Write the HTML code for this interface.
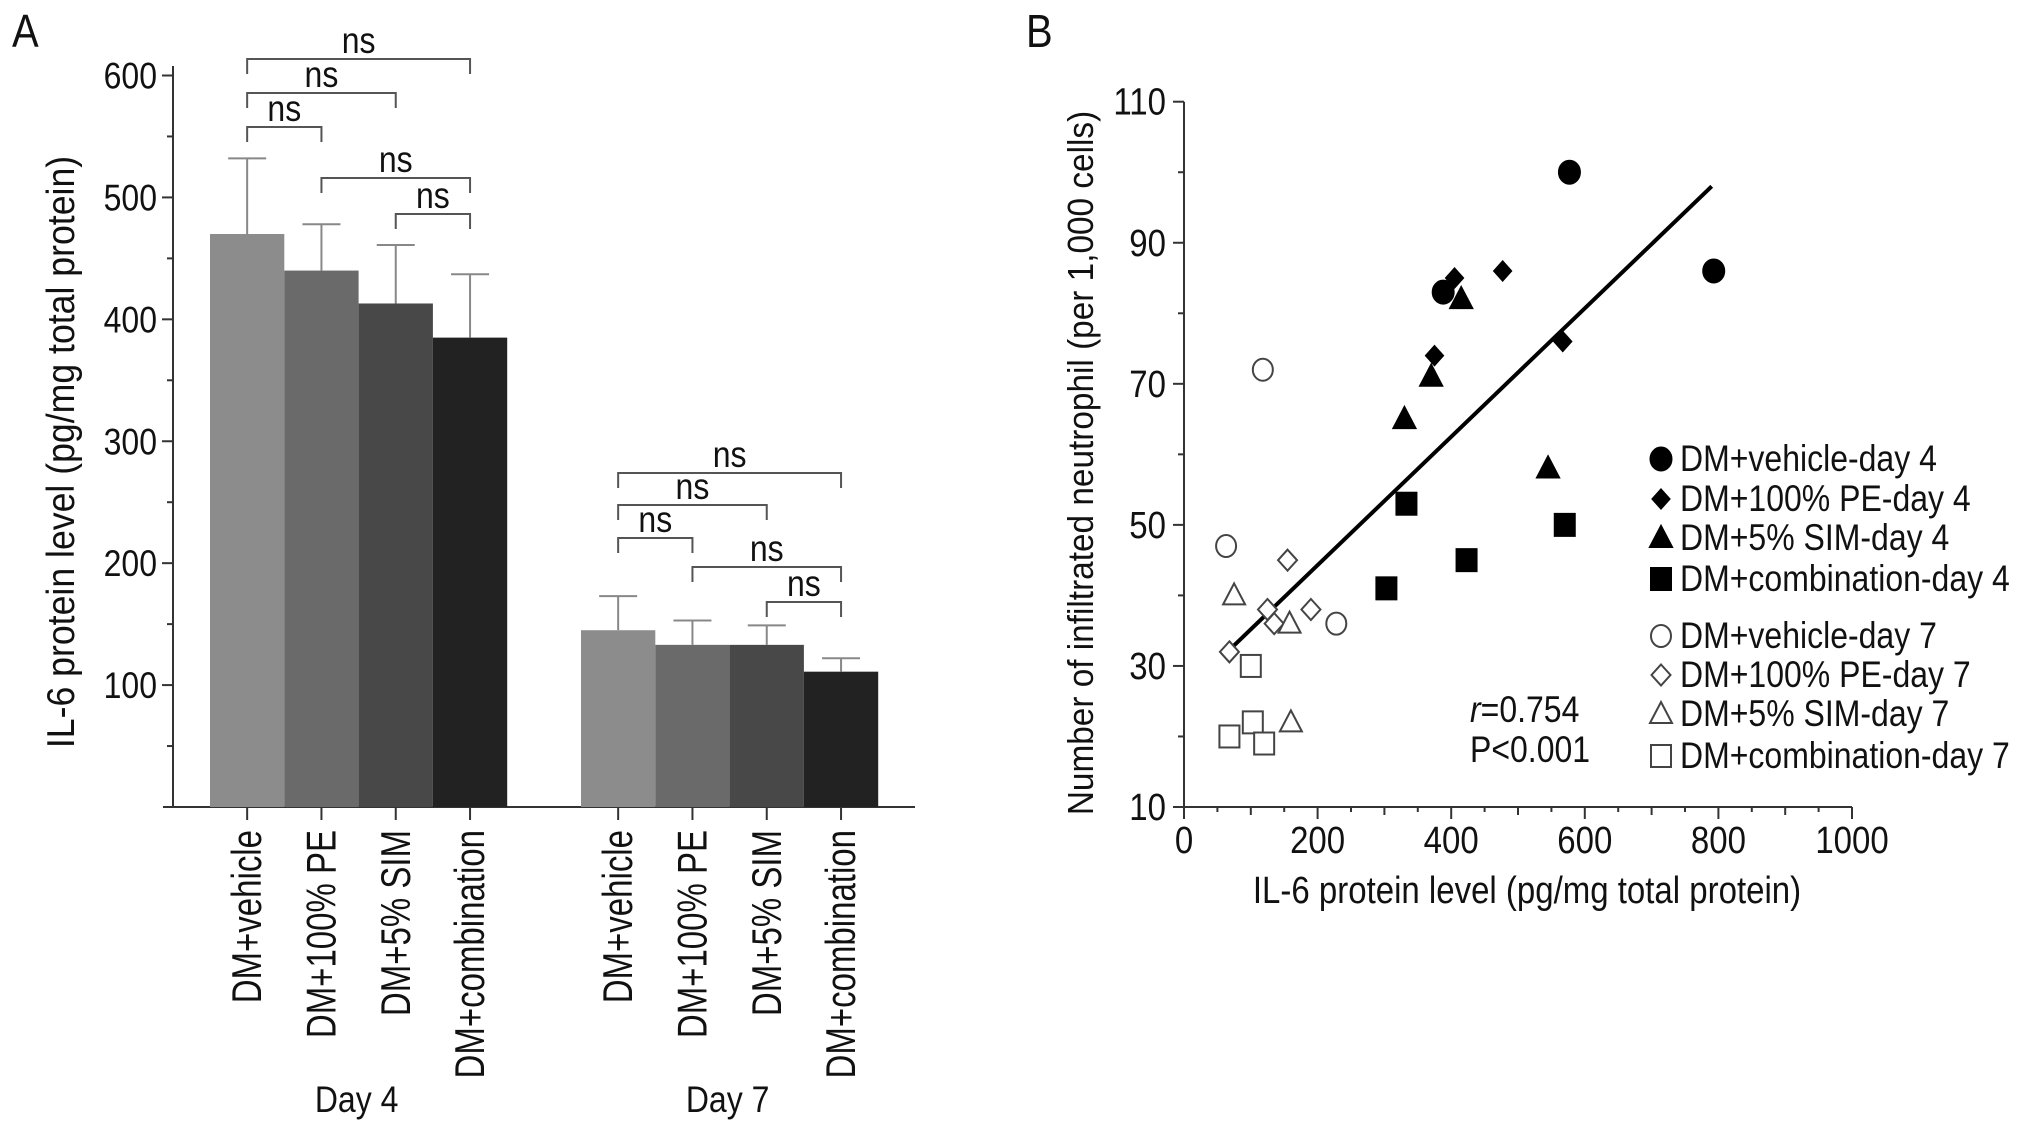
<!DOCTYPE html>
<html><head><meta charset="utf-8"><style>
html,body{margin:0;padding:0;background:#fff}
svg{display:block;font-family:"Liberation Sans",Arial,sans-serif}
</style></head><body>
<svg id="fig" width="2032" height="1133" viewBox="0 0 2032 1133" xmlns="http://www.w3.org/2000/svg">
<g id="pa"></g>
<g id="pb"></g>
</svg>
<script>
const groups = ["Day 4", "Day 7"];
const categories = ["DM+vehicle", "DM+100% PE", "DM+5% SIM", "DM+combination"];
const day4Means = [470, 440, 413, 385];
const day4Errors = [532, 478, 461, 437];
const day7Means = [145, 133, 133, 111];
const day7Errors = [173, 153, 149, 122];
const barTicks = [100, 200, 300, 400, 500, 600];
const bracketPairs = [[0,3],[0,2],[0,1],[1,3],[2,3]];

const vehD4x = [388, 577, 793], vehD4y = [83, 100, 86];
const peD4x = [405, 477, 375, 567], peD4y = [85, 86, 74, 76];
const simD4x = [415, 370, 330, 545], simD4y = [82, 71, 65, 58];
const comD4x = [333, 303, 423, 570], comD4y = [53, 41, 45, 50];
const vehD7x = [118, 63, 228], vehD7y = [72, 47, 36];
const peD7x = [155, 125, 190, 135, 68], peD7y = [45, 38, 38, 36, 32];
const simD7x = [75, 158, 160], simD7y = [40, 36, 22];
const comD7x = [100, 68, 103, 120], comD7y = [30, 20, 22, 19];
const fitX = [65, 790], fitY = [32, 98];
const xTicksB = [0, 200, 400, 600, 800, 1000];
const yTicksB = [10, 30, 50, 70, 90, 110];

const NS = "http://www.w3.org/2000/svg";
const ST = 1.15;
function mk(parent, tag, attrs, text) {
  const e = document.createElementNS(NS, tag);
  for (const k in attrs) e.setAttribute(k, attrs[k]);
  if (text !== undefined) e.textContent = text;
  parent.appendChild(e);
  return e;
}
function htext(parent, x, y, size, anchor, str) {
  return mk(parent, "text", {x:0, y:0, "font-size":size, "text-anchor":anchor, fill:"#111", transform:"translate(" + x + "," + y + ") scale(1," + ST + ")"}, str);
}
function vtext(parent, x, y, size, anchor, str, sa, sh) {
  return mk(parent, "text", {x:0, y:0, "font-size":size, "text-anchor":anchor, fill:"#111", transform:"translate(" + x + "," + y + ") rotate(-90) scale(" + sa + "," + sh + ")"}, str);
}
let e;
const svg = document.getElementById("fig");
e = htext(svg, 12, 47, 40, "start", "A");


e = htext(svg, 1026, 47, 40, "start", "B");



// ---------- Panel A ----------
const pa = document.getElementById("pa");
const Y0A = 807, Y600 = 75.5;
const yA = v => Y0A - v * (Y0A - Y600) / 600;
const barW = 74.3;
const groupStart = [210, 581];
const colors = ["#8c8c8c", "#6a6a6a", "#484848", "#222222"];
const xA = (g, i) => groupStart[g] + i * barW;
e = mk(pa, "line", {x1:173, y1:66, x2:173, y2:Y0A, stroke:"#333", "stroke-width":2});


e = mk(pa, "line", {x1:163, y1:Y0A, x2:915, y2:Y0A, stroke:"#333", "stroke-width":2});


for (let v = 50; v <= 600; v += 50) {
  const major = v % 100 === 0;
  mk(pa, "line", {x1: major ? 162 : 167, y1: yA(v), x2:173, y2: yA(v), stroke:"#333", "stroke-width":2});
}
barTicks.forEach(v => {
  e = htext(pa, 157, yA(v) + 13, 32, "end", String(v));
  
  
});
e = vtext(pa, 74, 452, 31, "middle", "IL-6 protein level (pg/mg total protein)", ST, 1.25);



[day4Means, day7Means].forEach((means, g) => {
  const errs = g === 0 ? day4Errors : day7Errors;
  means.forEach((m, i) => {
    const x = xA(g, i);
    e = mk(pa, "rect", {x:x, y:yA(m), width:barW, height:Y0A - yA(m), fill:colors[i]});
    
    
    const c = x + barW / 2;
    mk(pa, "line", {x1:c, y1:yA(errs[i]), x2:c, y2:yA(m), stroke:"#888", "stroke-width":2});
    e = mk(pa, "line", {x1:c - 19, y1:yA(errs[i]), x2:c + 19, y2:yA(errs[i]), stroke:"#888", "stroke-width":2});
    
    
    mk(pa, "line", {x1:c, y1:Y0A, x2:c, y2:Y0A + 13, stroke:"#333", "stroke-width":2});
    e = vtext(pa, c + 14, 830, 33, "end", categories[i], 1, 1.25);
    
    
  });
  e = htext(pa, xA(g, 2) - 2, 1112, 32, "middle", groups[g]);
  
  
});

const bracketY = [[59, 93, 127, 178, 214], [473, 505, 538, 567, 602]];
[0, 1].forEach(g => {
  bracketPairs.forEach((p, k) => {
    const a = xA(g, p[0]) + barW / 2, b = xA(g, p[1]) + barW / 2, y = bracketY[g][k];
    e = mk(pa, "path", {d:"M" + a + "," + (y + 15) + " V" + y + " H" + b + " V" + (y + 15), fill:"none", stroke:"#555", "stroke-width":2});
    
    
    e = htext(pa, (a + b) / 2, y - 6, 32, "middle", "ns");
    
    
  });
});

// ---------- Panel B ----------
const pb = document.getElementById("pb");
const Y10 = 807, Y110 = 101.7;
const xB = v => 1184 + v * (1852 - 1184) / 1000;
const yB = v => Y10 - (v - 10) * (Y10 - Y110) / 100;
e = mk(pb, "line", {x1:1184, y1:Y110, x2:1184, y2:Y10 + 1, stroke:"#333", "stroke-width":2});


e = mk(pb, "line", {x1:1183, y1:Y10, x2:1852, y2:Y10, stroke:"#333", "stroke-width":2});


for (let v = 10; v <= 110; v += 10) {
  const major = (v - 10) % 20 === 0;
  mk(pb, "line", {x1: major ? 1173 : 1178, y1:yB(v), x2:1184, y2:yB(v), stroke:"#333", "stroke-width":2});
}
for (let v = 0; v <= 1000; v += 50) {
  const major = v % 200 === 0;
  const mid = v % 100 === 0;
  mk(pb, "line", {x1:xB(v), y1:Y10, x2:xB(v), y2: Y10 + (major ? 12 : (mid ? 8 : 5)), stroke:"#333", "stroke-width":2});
}
yTicksB.forEach(v => {
  e = htext(pb, 1166, yB(v) + 13, 33, "end", String(v));
  
  
});
xTicksB.forEach(v => {
  e = htext(pb, xB(v), 853, 33, "middle", String(v));
  
  
});
e = htext(pb, 1527, 903, 33, "middle", "IL-6 protein level (pg/mg total protein)");


e = vtext(pb, 1093, 463, 29, "middle", "Number of infiltrated neutrophil (per 1,000 cells)", ST, 1.25);



e = mk(pb, "line", {x1:xB(fitX[0]), y1:yB(fitY[0]), x2:xB(fitX[1]), y2:yB(fitY[1]), stroke:"#000", "stroke-width":4});



function marker(parent, shape, filled, x, y) {
  const fill = filled ? "#000" : "#fff", st = filled ? "#000" : "#444";
  let m;
  if (shape === "circle") m = mk(parent, "ellipse", {cx:x, cy:y, rx:filled ? 10.5 : 10, ry:filled ? 11.5 : 11, fill:fill, stroke:st, "stroke-width":2});
  else if (shape === "square") m = mk(parent, "rect", {x:x - 10, y:y - 11, width:20, height:22, fill:fill, stroke:st, "stroke-width":2});
  else if (shape === "diamond") { const s = filled ? 8.5 : 9.5; m = mk(parent, "polygon", {points:x+","+(y-s-1)+" "+(x+s)+","+y+" "+x+","+(y+s+1)+" "+(x-s)+","+y, fill:fill, stroke:st, "stroke-width":2}); }
  else m = mk(parent, "polygon", {points:x+","+(y-12)+" "+(x+11)+","+(y+9)+" "+(x-11)+","+(y+9), fill:fill, stroke:st, "stroke-width":2});
  return m;
}
const series = [
  [vehD4x, vehD4y, "circle", true, "DM+vehicle-day 4"],
  [peD4x, peD4y, "diamond", true, "DM+100% PE-day 4"],
  [simD4x, simD4y, "triangle", true, "DM+5% SIM-day 4"],
  [comD4x, comD4y, "square", true, "DM+combination-day 4"],
  [vehD7x, vehD7y, "circle", false, "DM+vehicle-day 7"],
  [peD7x, peD7y, "diamond", false, "DM+100% PE-day 7"],
  [simD7x, simD7y, "triangle", false, "DM+5% SIM-day 7"],
  [comD7x, comD7y, "square", false, "DM+combination-day 7"]
];
const legendY = [459, 499, 538, 579, 636, 675, 714, 756];
series.forEach((s, k) => {
  s[0].forEach((xv, i) => {
    const m = marker(pb, s[2], s[3], xB(xv), yB(s[1][i]));
    
    
  });
  const lm = marker(pb, s[2], s[3], 1661, legendY[k]);
  
  
  const t = htext(pb, 1680, legendY[k] + 12, 32, "start", s[4]);
  
  
});
e = mk(pb, "text", {x:0, y:0, "font-size":32, fill:"#111", transform:"translate(1470,722) scale(1," + ST + ")"});


mk(e, "tspan", {"font-style":"italic"}, "r");
mk(e, "tspan", {}, "=0.754");
e = htext(pb, 1470, 762, 32, "start", "P<0.001");


</script>
</body></html>
